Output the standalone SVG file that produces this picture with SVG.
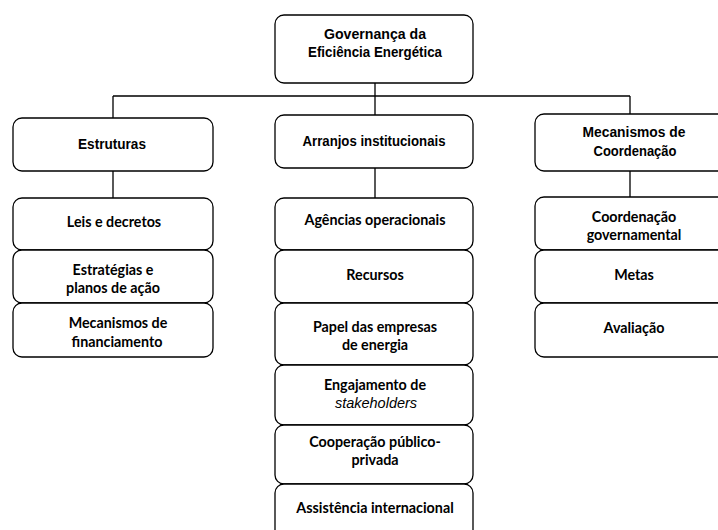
<svg xmlns="http://www.w3.org/2000/svg" width="718" height="530" viewBox="0 0 718 530">
<style>
.box{fill:#fff;stroke:#000;stroke-width:1.3}
.h{font-family:"Liberation Sans",Arial,sans-serif;font-weight:bold;font-size:15px;fill:#000;text-anchor:middle}
.s{font-family:Lato,"Open Sans",sans-serif;font-weight:bold;font-size:14.3px;fill:#000;text-anchor:middle}
.i{font-family:"Liberation Sans",Arial,sans-serif;font-style:italic;font-size:14.5px;fill:#000;text-anchor:middle}
.c{fill:none;stroke:#000;stroke-width:1.3}
</style>
<rect width="718" height="530" fill="#fff"/>
<g id="connectors">
<path class="c" d="M375 83V115M113 96H630M113 96V118M630 96V114M113 171V198M375 168V198M630 171V197"/>
</g>
<g id="governanca">
<rect class="box" x="275" y="15" width="198" height="68" rx="9"/>
<text class="h" x="375" y="39" textLength="102" lengthAdjust="spacingAndGlyphs">Governança da</text>
<text class="h" x="375" y="57" textLength="134" lengthAdjust="spacingAndGlyphs">Eficiência Energética</text>
</g>
<g id="estruturas">
<rect class="box" x="13" y="118" width="200" height="53" rx="9"/>
<text class="h" x="112" y="149" textLength="68" lengthAdjust="spacingAndGlyphs">Estruturas</text>
</g>
<g id="arranjos">
<rect class="box" x="275" y="115" width="198" height="53" rx="9"/>
<text class="h" x="374" y="146" textLength="143" lengthAdjust="spacingAndGlyphs">Arranjos institucionais</text>
</g>
<g id="mecanismos-coord">
<rect class="box" x="535" y="114" width="200" height="57" rx="9"/>
<text class="h" x="634" y="137" textLength="103" lengthAdjust="spacingAndGlyphs">Mecanismos de</text>
<text class="h" x="635" y="156" textLength="83" lengthAdjust="spacingAndGlyphs">Coordenação</text>
</g>
<g id="leis">
<rect class="box" x="13" y="198" width="200" height="52" rx="9"/>
<text class="s" x="114" y="227">Leis e decretos</text>
</g>
<g id="estrategias">
<rect class="box" x="13" y="250" width="200" height="53" rx="9"/>
<text class="s" x="113" y="275">Estratégias e</text>
<text class="s" x="113" y="293">planos de ação</text>
</g>
<g id="financiamento">
<rect class="box" x="13" y="303" width="200" height="54" rx="9"/>
<text class="s" x="118" y="328">Mecanismos de</text>
<text class="s" x="117" y="347">financiamento</text>
</g>
<g id="agencias">
<rect class="box" x="275" y="198" width="198" height="52" rx="9"/>
<text class="s" x="375" y="225">Agências operacionais</text>
</g>
<g id="recursos">
<rect class="box" x="275" y="250" width="198" height="53" rx="9"/>
<text class="s" x="375" y="280">Recursos</text>
</g>
<g id="papel">
<rect class="box" x="275" y="303" width="198" height="62" rx="9"/>
<text class="s" x="375" y="332">Papel das empresas</text>
<text class="s" x="375" y="350">de energia</text>
</g>
<g id="engajamento">
<rect class="box" x="275" y="365" width="198" height="60" rx="9"/>
<text class="s" x="375" y="390">Engajamento de</text>
<text class="i" x="376" y="408">stakeholders</text>
</g>
<g id="cooperacao">
<rect class="box" x="275" y="425" width="198" height="59" rx="9"/>
<text class="s" x="375" y="447">Cooperação público-</text>
<text class="s" x="375" y="465">privada</text>
</g>
<g id="assistencia">
<rect class="box" x="275" y="484" width="198" height="60" rx="9"/>
<text class="s" x="375" y="513">Assistência internacional</text>
</g>
<g id="coord-gov">
<rect class="box" x="535" y="197" width="200" height="53" rx="9"/>
<text class="s" x="634" y="222">Coordenação</text>
<text class="s" x="634" y="240">governamental</text>
</g>
<g id="metas">
<rect class="box" x="535" y="250" width="200" height="53" rx="9"/>
<text class="s" x="634" y="280">Metas</text>
</g>
<g id="avaliacao">
<rect class="box" x="535" y="303" width="200" height="54" rx="9"/>
<text class="s" x="634" y="333">Avaliação</text>
</g>
</svg>
